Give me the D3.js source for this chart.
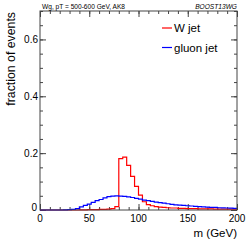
<!DOCTYPE html>
<head>
    <meta charset="utf-8">
    <title>W vs gluon jet mass</title>
    <script src="https://d3js.org/d3.v7.min.js"></script>
    <style>
        body { margin: 0; background: #fff; }
        svg text { font-family: "Liberation Sans", Arial, Helvetica, sans-serif; fill: #000; }
    </style>
</head>
<body>
<div id="container"></div>
<script>
    //----------------------------DATA-------------------------------//
    // lower edge of each 4 GeV mass bin
    const binLow = [0, 4, 8, 12, 16, 20, 24, 28, 32, 36,
        40, 44, 48, 52, 56, 60, 64, 68, 72, 76,
        80, 84, 88, 92, 96, 100, 104, 108, 112, 116,
        120, 124, 128, 132, 136, 140, 144, 148, 152, 156,
        160, 164, 168, 172, 176, 180, 184, 188, 192, 196];
    const binWidth = 4;

    const wJet = [0, 0, 0, 0, 0, 0, 0, 0, 0, 0,
        0.0005, 0.0005, 0.001, 0.001, 0.0015, 0.002, 0.002, 0.003, 0.005, 0.012,
        0.181, 0.186, 0.157, 0.118, 0.083, 0.052, 0.029, 0.019, 0.015, 0.012,
        0.010, 0.009, 0.008, 0.007, 0.007, 0.006, 0.006, 0.005, 0.005, 0.005,
        0.004, 0.004, 0.004, 0.004, 0.003, 0.003, 0.003, 0.003, 0.003, 0.003];

    const gluonJet = [0, 0, 0, 0, 0, 0, 0.0005, 0.001, 0.002, 0.005,
        0.011, 0.016, 0.021, 0.027, 0.033, 0.037, 0.043, 0.047, 0.049, 0.050,
        0.049, 0.048, 0.046, 0.044, 0.041, 0.038, 0.035, 0.033, 0.030, 0.028,
        0.026, 0.024, 0.022, 0.020, 0.018, 0.017, 0.016, 0.015, 0.014, 0.013,
        0.012, 0.011, 0.010, 0.0095, 0.009, 0.008, 0.0075, 0.007, 0.0065, 0.006];

    const seriesNames = ["W jet", "gluon jet"];
    const seriesColors = ["#ff0000", "#0000ff"];

    const xTicks = [0, 50, 100, 150, 200];
    const yTicks = [0, 0.2, 0.4, 0.6];

    //----------------------------SVG--------------------------------//
    const width = 249, height = 242;
    const margin = {top: 11, right: 12, bottom: 32, left: 40};

    const svg = d3.select("#container").append("svg")
        .attr("width", width)
        .attr("height", height);

    //---------------------------SCALES------------------------------//
    const x = d3.scaleLinear().domain([0, 200]).range([margin.left, width - margin.right]);
    const y = d3.scaleLinear().domain([0, 0.7]).range([height - margin.bottom, margin.top]);

    //---------------------------AXES--------------------------------//
    const plotBottom = height - margin.bottom, plotTop = margin.top;
    const plotLeft = margin.left, plotRight = width - margin.right;

    // minor ticks via axes with no labels
    const xMinor = d3.range(0, 201, 10);
    const yMinor = d3.range(0, 0.70001, 0.05);

    function noLabels(a) { return a.tickFormat(""); }

    svg.append("g").attr("class", "ax")
        .attr("transform", `translate(0,${plotBottom})`)
        .call(noLabels(d3.axisTop(x).tickValues(xMinor).tickSize(3).tickSizeOuter(0)));
    svg.append("g").attr("class", "ax")
        .attr("transform", `translate(0,${plotBottom})`)
        .call(noLabels(d3.axisTop(x).tickValues(xTicks).tickSize(6).tickSizeOuter(0)));
    svg.append("g").attr("class", "ax")
        .attr("transform", `translate(0,${plotTop})`)
        .call(noLabels(d3.axisBottom(x).tickValues(xMinor).tickSize(3).tickSizeOuter(0)));
    svg.append("g").attr("class", "ax")
        .attr("transform", `translate(0,${plotTop})`)
        .call(noLabels(d3.axisBottom(x).tickValues(xTicks).tickSize(6).tickSizeOuter(0)));

    svg.append("g").attr("class", "ax")
        .attr("transform", `translate(${plotLeft},0)`)
        .call(noLabels(d3.axisRight(y).tickValues(yMinor).tickSize(3).tickSizeOuter(0)));
    svg.append("g").attr("class", "ax")
        .attr("transform", `translate(${plotLeft},0)`)
        .call(noLabels(d3.axisRight(y).tickValues(yTicks).tickSize(6).tickSizeOuter(0)));
    svg.append("g").attr("class", "ax")
        .attr("transform", `translate(${plotRight},0)`)
        .call(noLabels(d3.axisLeft(y).tickValues(yMinor).tickSize(3).tickSizeOuter(0)));
    svg.append("g").attr("class", "ax")
        .attr("transform", `translate(${plotRight},0)`)
        .call(noLabels(d3.axisLeft(y).tickValues(yTicks).tickSize(6).tickSizeOuter(0)));

    svg.selectAll(".ax .domain").remove();
    svg.selectAll(".ax line").attr("stroke", "#444").attr("stroke-width", 1);

    // tick labels
    svg.append("g").selectAll("text")
        .data(xTicks)
        .join("text")
        .attr("x", d => x(d))
        .attr("y", plotBottom + 12)
        .attr("text-anchor", "middle")
        .attr("font-size", 10)
        .text(d => d);

    svg.append("g").selectAll("text")
        .data(yTicks)
        .join("text")
        .attr("x", d => d === 0 ? plotLeft - 3 : plotLeft - 2)
        .attr("y", d => y(d) + (d === 0 ? 1 : 3.5))
        .attr("text-anchor", "end")
        .attr("font-size", 10)
        .text(d => d === 0 ? "0" : d.toFixed(1));

    //--------------------------HISTOGRAMS---------------------------//
    const series = [wJet, gluonJet].map((vals, i) => ({
        name: seriesNames[i],
        color: seriesColors[i],
        points: binLow.map((lo, j) => ({lo: lo, hi: lo + binWidth, v: vals[j]}))
    }));

    function stepPoints(pts) {
        const out = [];
        pts.forEach(p => { out.push([p.lo, p.v]); out.push([p.hi, p.v]); });
        return out;
    }

    const line = d3.line()
        .x(d => x(d[0]))
        .y(d => y(d[1]));

    svg.append("g").selectAll("path")
        .data(series)
        .join("path")
        .attr("fill", "none")
        .attr("stroke", d => d.color)
        .attr("stroke-width", 1.2)
        .attr("d", d => line(stepPoints(d.points)));

    // frame
    svg.append("rect")
        .attr("x", plotLeft).attr("y", plotTop)
        .attr("width", plotRight - plotLeft).attr("height", plotBottom - plotTop)
        .attr("fill", "none").attr("stroke", "#444").attr("stroke-width", 1);

    //----------------------------TEXT-------------------------------//
    svg.append("text")
        .attr("x", plotLeft + 2).attr("y", 9)
        .attr("font-size", 6.6)
        .text("Wg, pT = 500-600 GeV, AK8");

    svg.append("text")
        .attr("x", plotRight).attr("y", 9)
        .attr("text-anchor", "end")
        .attr("font-size", 6.6)
        .attr("font-style", "italic")
        .text("BOOST13WG");

    svg.append("text")
        .attr("transform", `translate(15,${plotTop + 1}) rotate(-90)`)
        .attr("text-anchor", "end")
        .attr("font-size", 12.3)
        .text("fraction of events");

    svg.append("text")
        .attr("x", plotRight).attr("y", 237)
        .attr("text-anchor", "end")
        .attr("font-size", 11.5)
        .text("m (GeV)");

    // legend
    const legend = svg.append("g").selectAll("g")
        .data(series)
        .join("g")
        .attr("transform", (d, i) => `translate(162,${28 + i * 19.5})`);
    legend.append("line")
        .attr("x1", 0).attr("x2", 10)
        .attr("stroke", d => d.color).attr("stroke-width", 1.2);
    legend.append("text")
        .attr("x", 12).attr("y", 4)
        .attr("font-size", 11.5)
        .text(d => d.name);
</script>
</body>
